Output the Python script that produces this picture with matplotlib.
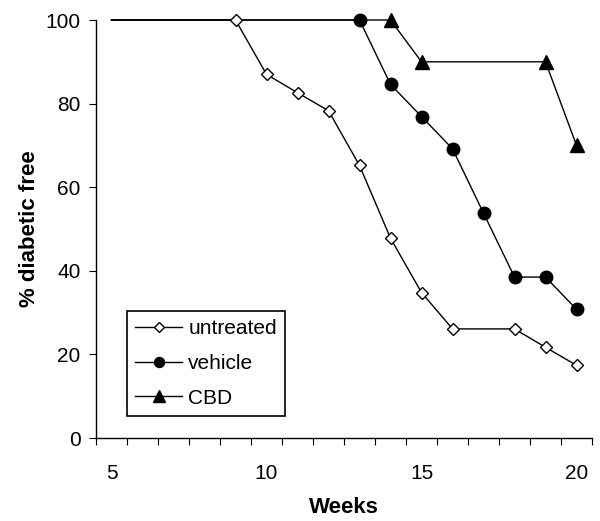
import matplotlib
matplotlib.use("Agg")
import matplotlib.pyplot as plt
from matplotlib.ticker import FixedLocator, NullFormatter, FixedFormatter

plt.rcParams['font.family'] = ['Liberation Sans', 'DejaVu Sans']

# survival-style data (% diabetic free) per week
weeks_untreated = [5, 9, 10, 11, 12, 13, 14, 15, 16, 18, 19, 20]
untreated = [100, 100, 87.0, 82.6, 78.3, 65.2, 47.8, 34.8, 26.1, 26.1, 21.7, 17.4]

weeks_vehicle = [5, 13, 14, 15, 16, 17, 18, 19, 20]
vehicle = [100, 100, 84.6, 76.9, 69.2, 53.8, 38.5, 38.5, 30.8]

weeks_cbd = [5, 14, 15, 19, 20]
cbd = [100, 100, 90, 90, 70]

x_labels = [5, 10, 15, 20]
y_ticks = [0, 20, 40, 60, 80, 100]
week_range = (4.5, 20.5)

fig = plt.figure(figsize=(6, 5.21), dpi=100)
ax = fig.add_axes([0.16, 0.1593, 0.8267, 0.8023])

# first point of each series is only the start of the flat line, no marker
ax.plot(weeks_cbd, cbd, color='black', lw=1, marker='^', ms=10,
        markevery=slice(1, None), clip_on=False, label='CBD', zorder=3)
ax.plot(weeks_vehicle, vehicle, color='black', lw=1, marker='o', ms=9,
        markevery=slice(1, None), clip_on=False, label='vehicle', zorder=4)
ax.plot(weeks_untreated, untreated, color='black', lw=1, marker='D', ms=6.5,
        mfc='white', mec='black', mew=1, markevery=slice(1, None),
        clip_on=False, label='untreated', zorder=5)

ax.set_xlim(*week_range)
ax.set_ylim(0, 100)

# category-style axis: tick marks between weeks, labels on the weeks
edges = [w + 0.5 for w in range(4, 21)]
ax.xaxis.set_major_locator(FixedLocator(edges))
ax.xaxis.set_major_formatter(NullFormatter())
ax.xaxis.set_minor_locator(FixedLocator(x_labels))
ax.xaxis.set_minor_formatter(FixedFormatter([str(v) for v in x_labels]))
ax.tick_params(axis='x', which='major', direction='out', length=5, width=0.8)
ax.tick_params(axis='x', which='minor', length=0, pad=19, labelsize=15)

ax.set_yticks(y_ticks)
ax.tick_params(axis='y', direction='out', length=5, width=0.8, pad=6, labelsize=15)

for side in ['top', 'right']:
    ax.spines[side].set_visible(False)
for side in ['left', 'bottom']:
    ax.spines[side].set_linewidth(1)

ax.set_xlabel('Weeks', fontsize=16, fontweight='bold', labelpad=10)
ax.set_ylabel('% diabetic free', fontsize=16, fontweight='bold', labelpad=4)

handles, labels = ax.get_legend_handles_labels()
leg = ax.legend(handles[::-1], labels[::-1], loc='lower left',
                bbox_to_anchor=(0.062, 0.053), borderaxespad=0,
                fontsize=15, handlelength=2.25, handletextpad=0.3,
                labelspacing=0.75, borderpad=0.4, fancybox=False,
                edgecolor='black', framealpha=1, markerscale=0.8)
leg.get_frame().set_linewidth(1.2)

fig.savefig('out.png', dpi=100)
